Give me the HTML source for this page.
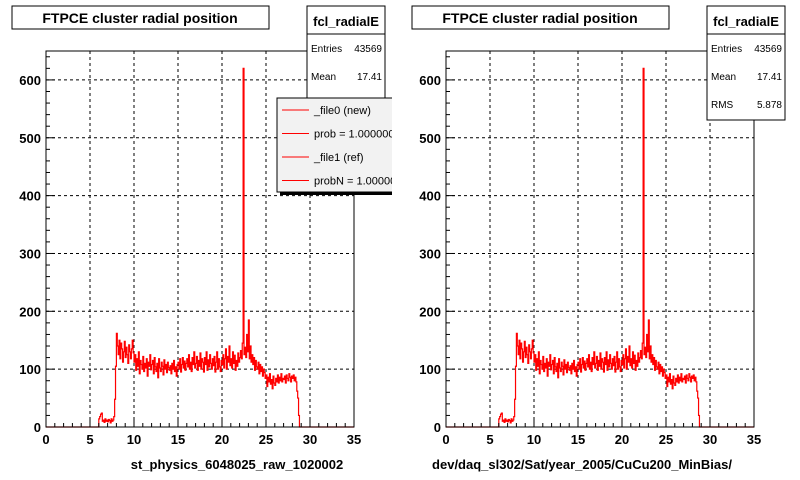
<!DOCTYPE html>
<html><head><meta charset="utf-8"><style>
body{margin:0;background:#fff;}
svg{display:block;font-family:"Liberation Sans",sans-serif;}
</style></head><body>
<svg id="c" width="800" height="480" viewBox="0 0 800 480"></svg>
<script>
const binStart = 5.5;
const binWidth = 0.1;
const counts = [
0,0,0,0,0,
14,18,22,24,10,12,8,14,10,12,
9,13,11,7,14,10,12,18,48,105,
162,140,125,150,118,145,135,112,130,148,
120,138,125,110,142,130,118,135,150,128,
112,125,98,118,105,130,92,115,108,100,
122,96,110,102,118,88,112,105,125,99,
108,115,92,120,104,96,110,85,118,102,
96,112,105,90,116,100,108,94,112,103,
98,106,92,110,100,115,96,104,88,108,
112,100,118,95,108,120,102,114,98,110,
118,104,125,100,112,96,120,108,130,102,
110,122,98,115,105,128,100,118,112,95,
120,108,130,98,116,104,125,110,100,118,
106,122,95,112,130,100,118,104,96,115,
108,125,102,118,135,100,122,112,140,106,
118,102,130,110,124,98,115,105,128,112,
120,132,118,145,620,125,138,120,160,130,
185,118,140,112,125,108,120,98,115,104,
100,112,92,108,96,104,88,100,94,84,
90,70,86,78,92,74,82,66,88,76,
72,84,78,90,76,86,80,92,78,84,
82,88,76,90,84,80,92,86,78,88,
84,90,80,86,78,62,50,20,0,0];
const xTicks = [0,5,10,15,20,25,30,35];
const yTicks = [0,100,200,300,400,500,600];
const statLabels = ["Entries","Mean","RMS"];
const statValues = ["43569","17.41","5.878"];
const legendLabels = ["_file0 (new)","prob = 1.000000","_file1 (ref)","probN = 1.000000"];

const NS="http://www.w3.org/2000/svg";
const svg=document.getElementById('c');
function mk(tag,attrs,parent){const e=document.createElementNS(NS,tag);for(const k in attrs)e.setAttribute(k,attrs[k]);(parent||svg).appendChild(e);return e;}

function panel(ox, xlabel, labelCx, pname, withLegend){
  const g=mk('g',{});
  
  
  const L=ox+46,R=ox+354,T=51,B=427;
  const X=v=>L+(v/35)*(R-L);
  const Y=v=>B-(v/650)*(B-T);
  xTicks.forEach(t=>{if(t>0&&t<35){const l=mk('line',{x1:X(t),x2:X(t),y1:T,y2:B,stroke:'#000','stroke-dasharray':'3,3','stroke-width':1},g);}});
  yTicks.forEach(t=>{if(t>0){const l=mk('line',{x1:L,x2:R,y1:Y(t),y2:Y(t),stroke:'#000','stroke-dasharray':'3,3','stroke-width':1},g);}});
  let d=`M${X(0)},${Y(0)} L${X(binStart)},${Y(0)}`;
  counts.forEach((c,i)=>{const x0=X(binStart+i*binWidth),x1=X(binStart+(i+1)*binWidth);d+=` L${x0},${Y(c)} L${x1},${Y(c)}`;});
  d+=` L${X(binStart+counts.length*binWidth)},${Y(0)} L${X(35)},${Y(0)}`;
  const p=mk('path',{d:d,fill:'none',stroke:'#f00','stroke-width':1.2},g);
  
  
  const f=mk('rect',{x:L,y:T,width:R-L,height:B-T,fill:'none',stroke:'#000','stroke-width':1},g);
  
  
  for(let v=0;v<=35;v++){const maj=v%5===0;mk('line',{x1:X(v),x2:X(v),y1:B,y2:B-(maj?9:4),stroke:'#000'},g);}
  xTicks.forEach(t=>{const tx=mk('text',{x:X(t),y:B+17,'text-anchor':'middle','font-size':13,'font-weight':'bold'},g);tx.textContent=t;});
  for(let v=0;v<=640;v+=20){const maj=v%100===0;mk('line',{x1:L,x2:L+(maj?9:4),y1:Y(v),y2:Y(v),stroke:'#000'},g);}
  yTicks.forEach(t=>{const tx=mk('text',{x:L-5,y:Y(t)+5,'text-anchor':'end','font-size':13,'font-weight':'bold'},g);tx.textContent=t;});
  const xl=mk('text',{x:labelCx,y:469,'text-anchor':'middle','font-size':13,'font-weight':'bold'},g);
  xl.textContent=xlabel;
  
  
  const tb=mk('rect',{x:ox+12,y:6,width:257,height:23,fill:'#fff',stroke:'#000'},g);
  
  
  const tt=mk('text',{x:ox+140,y:23,'text-anchor':'middle','font-size':14,'font-weight':'bold'},g);
  tt.textContent='FTPCE cluster radial position';
  
  
  const sb=mk('rect',{x:ox+307,y:6,width:78,height:114,fill:'#fff',stroke:'#000'},g);
  
  
  mk('line',{x1:ox+307,x2:ox+385,y1:34,y2:34,stroke:'#000'},g);
  const sn=mk('text',{x:ox+346,y:26,'text-anchor':'middle','font-size':13,'font-weight':'bold'},g);
  sn.textContent='fcl_radialE';
  
  
  statLabels.forEach((s,i)=>{const y=52+i*28;
    const a=mk('text',{x:ox+311,y:y,'font-size':10},g);a.textContent=s;
    const b=mk('text',{x:ox+382,y:y,'text-anchor':'end','font-size':10},g);b.textContent=statValues[i];});
  if(withLegend){
    const lg=mk('g',{},g);
    
    
    mk('rect',{x:280,y:101,width:120,height:94,fill:'#000'},lg);
    mk('rect',{x:277,y:98,width:120,height:94,fill:'#f2f2f2',stroke:'#000'},lg);
    legendLabels.forEach((s,i)=>{const y=110+i*23.5;
      mk('line',{x1:282,x2:309,y1:y,y2:y,stroke:'#f00','stroke-width':1},lg);
      const t=mk('text',{x:314,y:y+4,'font-size':11},lg);t.textContent=s;});
    mk('rect',{x:392,y:95,width:10,height:110,fill:'#fff'},lg);
  }
}
panel(0,'st_physics_6048025_raw_1020002',237,'left-panel',true);
panel(400,'dev/daq_sl302/Sat/year_2005/CuCu200_MinBias/',582,'right-panel',false);
</script>
</body></html>
